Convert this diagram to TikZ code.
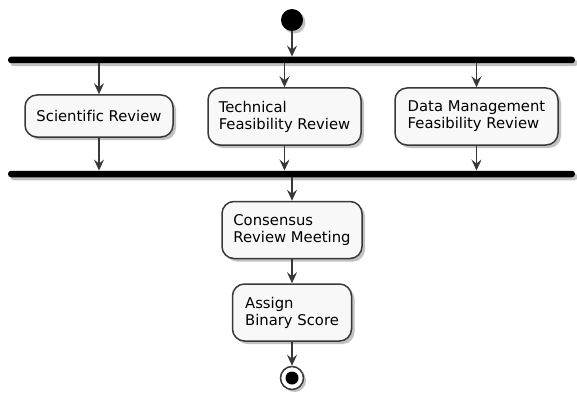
\documentclass[tikz,border=0pt]{standalone}
\usepackage{fontspec}
\setmainfont[Ligatures=NoCommon]{DejaVu Sans}
\usetikzlibrary{arrows.meta, positioning, shadows}

\definecolor{boxfill}{HTML}{F8F8F8}
\definecolor{lineclr}{HTML}{383838}

\begin{document}
\begin{tikzpicture}[
    x=1pt, y=-1pt,
    activity/.style={rectangle, rounded corners=12pt, draw=lineclr, line width=1.5pt, fill=boxfill, align=left, inner xsep=10pt, inner ysep=6pt, font=\fontsize{14.8}{17}\selectfont, minimum height=42pt, drop shadow={shadow xshift=3pt, shadow yshift=-3pt, opacity=0.35, fill=black!70}},
    tall/.style={minimum height=57pt},
    syncbar/.style={rectangle, rounded corners=3pt, fill=black, inner sep=0pt, minimum width=567pt, minimum height=6.5pt, drop shadow={shadow xshift=2.5pt, shadow yshift=-3pt, opacity=0.35, fill=black!70}},
    arrow/.style={-{Stealth[length=11pt, width=10pt, inset=4pt]}, draw=lineclr, line width=1.5pt}
]
\useasboundingbox (0,0) rectangle (577,393);

% start and end
\node[circle, fill=black, minimum size=22pt, inner sep=0pt, drop shadow={shadow xshift=2.5pt, shadow yshift=-2.5pt, opacity=0.35, fill=black!70}] (start) at (292, 20) {};
\node[circle, draw=lineclr, line width=1.5pt, fill=white, minimum size=23pt, inner sep=0pt, drop shadow={shadow xshift=2.5pt, shadow yshift=-2.5pt, opacity=0.35, fill=black!70}] (stop) at (292, 378) {};
\node[circle, fill=black, minimum size=13pt, inner sep=0pt] (stopdot) at (stop.center) {};

% fork and join bars
\node[syncbar] (fork) at (291.5, 60) {};
\node[syncbar] (join) at (291.5, 174) {};

% parallel reviews
\node[activity, minimum width=148pt] (sci) at (99, 116) {Scientific Review};
\node[activity, tall, minimum width=153pt] (tech) at (284.5, 116.5) {Technical\\Feasibility Review};
\node[activity, tall, minimum width=163pt] (data) at (476.5, 116.5) {Data Management\\Feasibility Review};

% sequence
\node[activity, tall, minimum width=140pt] (meeting) at (292, 230) {Consensus\\Review Meeting};
\node[activity, tall, minimum width=119pt] (score) at (292, 312.5) {Assign\\Binary Score};

% connectors
\draw[arrow] (start) -- (start |- fork.north);
\draw[arrow] (sci.north |- fork.south) -- (sci.north);
\draw[arrow] (tech.north |- fork.south) -- (tech.north);
\draw[arrow] (data.north |- fork.south) -- (data.north);
\draw[arrow] (sci.south) -- (sci.south |- join.north);
\draw[arrow] (tech.south) -- (tech.south |- join.north);
\draw[arrow] (data.south) -- (data.south |- join.north);
\draw[arrow] (meeting.north |- join.south) -- (meeting.north);
\draw[arrow] (meeting.south) -- (score.north);
\draw[arrow] (score.south) -- (stop.north);

\end{tikzpicture}
\end{document}
